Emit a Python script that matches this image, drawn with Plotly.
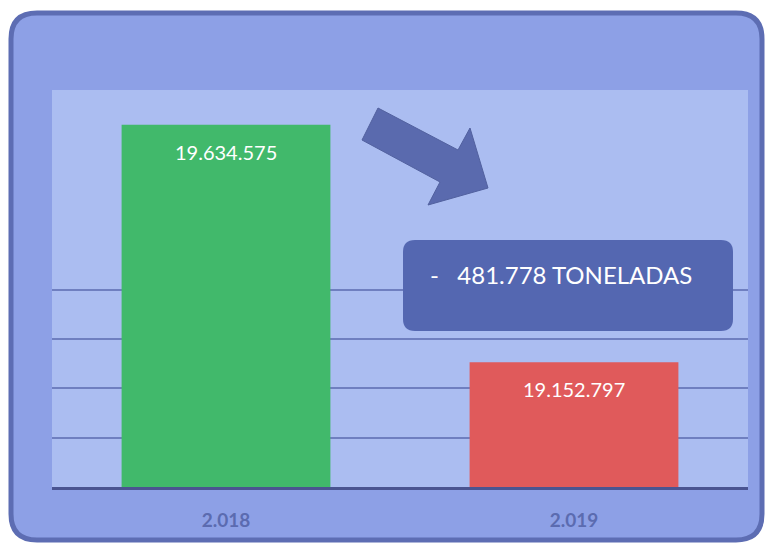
import plotly.graph_objects as go

# ---- data ----
years = ["2.018", "2.019"]
tonnes = [19634575, 19152797]
bar_colors = ["#41b96b", "#e05a5b"]
unit_label = "TONELADAS"
grid_values = [19000000, 19100000, 19200000, 19300000]
y_min, y_max = 18900000, 19705000

W, H = 769, 544
ML, MR, MT, MB = 52, 21, 90, 57
PW, PH = W - ML - MR, H - MT - MB
FONT = "Lato, Open Sans, sans-serif"


def px(x):
    return (x - ML) / PW


def py(y):
    return (H - MB - y) / PH


def fmt(v):
    return f"{abs(v):,}".replace(",", ".")


def rrect(x0, y0, x1, y1, r):
    pts = [
        f"M {px(x0 + r)},{py(y0)}",
        f"L {px(x1 - r)},{py(y0)}",
        f"Q {px(x1)},{py(y0)} {px(x1)},{py(y0 + r)}",
        f"L {px(x1)},{py(y1 - r)}",
        f"Q {px(x1)},{py(y1)} {px(x1 - r)},{py(y1)}",
        f"L {px(x0 + r)},{py(y1)}",
        f"Q {px(x0)},{py(y1)} {px(x0)},{py(y1 - r)}",
        f"L {px(x0)},{py(y0 + r)}",
        f"Q {px(x0)},{py(y0)} {px(x0 + r)},{py(y0)}",
        "Z",
    ]
    return " ".join(pts)


def poly(points):
    return "M " + " L ".join(f"{px(a)},{py(b)}" for a, b in points) + " Z"


fig = go.Figure()
fig.add_trace(go.Bar(
    x=years, y=tonnes, marker=dict(color=bar_colors, line=dict(width=0)),
    hoverinfo="skip", showlegend=False,
))

shapes = [
    dict(type="path", xref="paper", yref="paper", layer="below",
         path=rrect(11, 13, 762, 540, 26),
         fillcolor="#8da0e6", line=dict(color="#5d6db3", width=5)),
    dict(type="rect", xref="paper", yref="paper", layer="below",
         x0=0, x1=1, y0=0, y1=1, fillcolor="#abbdf1", line=dict(width=0)),
    dict(type="path", xref="paper", yref="paper", layer="above",
         path=poly([(378, 108), (458, 150), (470, 128), (488, 188),
                    (428, 205), (440, 182), (362, 140)]),
         fillcolor="#5a6aae", line=dict(color="#52619f", width=1)),
    dict(type="path", xref="paper", yref="paper", layer="above",
         path=rrect(403, 240, 733, 331, 12),
         fillcolor="#5467b1", line=dict(width=0)),
]

annotations = []
for i, v in enumerate(tonnes):
    annotations.append(dict(
        x=i, y=v, xref="x", yref="y", text=fmt(v), showarrow=False,
        xanchor="center", yanchor="middle", yshift=-27,
        font=dict(family=FONT, size=20, color="white"),
    ))

diff = tonnes[1] - tonnes[0]
sign = "-" if diff < 0 else "+"
annotations.append(dict(
    x=px(561), y=py(274), xref="paper", yref="paper",
    xanchor="center", yanchor="middle",
    text=f"{sign}\u00a0\u00a0\u00a0{fmt(diff)} {unit_label}", showarrow=False,
    font=dict(family=FONT, size=24, color="white"),
))

fig.update_layout(
    width=W, height=H,
    margin=dict(l=ML, r=MR, t=MT, b=MB, pad=0),
    paper_bgcolor="white", plot_bgcolor="rgba(0,0,0,0)",
    separators=",.",
    bargap=0.4,
    shapes=shapes, annotations=annotations,
    xaxis=dict(
        type="category", range=[-0.5, len(years) - 0.5], fixedrange=True,
        showgrid=False, showline=True, linecolor="#4a5491", linewidth=3,
        ticks="", ticklabelstandoff=14,
        tickfont=dict(family=FONT, size=19, color="#5b6bb0", weight="bold"),
    ),
    yaxis=dict(
        range=[y_min, y_max], tickvals=grid_values, showticklabels=False,
        showgrid=True, gridcolor="#6f7fc0", gridwidth=1.5, zeroline=False,
        showline=False, fixedrange=True,
    ),
)

fig.write_html("out.html", config={"displayModeBar": False},
               post_script="document.body.style.margin='0';")
